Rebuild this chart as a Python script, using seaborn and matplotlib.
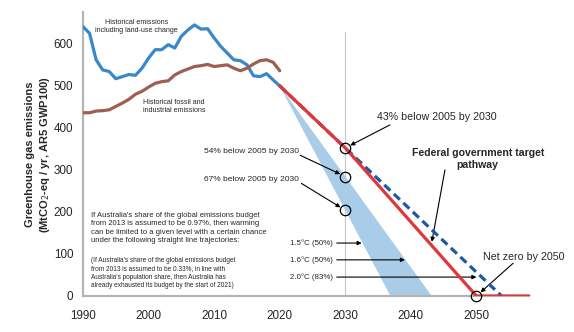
import numpy as np
import pandas as pd
import matplotlib
matplotlib.use("Agg")
import matplotlib.pyplot as plt
import seaborn as sns

# Historical emissions, MtCO2-eq / yr (AR5 GWP100)
years = list(range(1990, 2021))
incl_land_use = [641, 625, 562, 538, 534, 517, 522, 527, 525, 542, 566,
                 586, 586, 598, 590, 618, 633, 645, 635, 636, 614,
                 594, 578, 562, 560, 550, 524, 522, 529, 514, 500]
fossil_industrial = [436, 436, 440, 441, 443, 451, 459, 468, 480, 487, 497,
                     506, 510, 512, 526, 534, 540, 546, 548, 551, 546,
                     548, 550, 542, 536, 542, 552, 560, 562, 556, 536]

# 2030 reduction targets relative to 2005
target_cuts = [0.43, 0.54, 0.67]
target_labels = ["43% below 2005 by 2030", "54% below 2005 by 2030",
                 "67% below 2005 by 2030"]
net_zero_year = 2050
pathway_end_year = 2058
warming_labels = ["1.5°C (50%)", "1.6°C (50%)", "2.0°C (83%)"]

base_2005 = incl_land_use[years.index(2005)]
start_year, start_val = years[-1], incl_land_use[-1]
vals_2030 = [base_2005 * (1 - c) for c in target_cuts]


def zero_year(v2030):
    slope = (start_val - v2030) / (2030 - start_year)
    return start_year + start_val / slope


hist = pd.DataFrame({"year": years, "incl": incl_land_use,
                     "fossil": fossil_industrial})
federal = pd.DataFrame({"year": [start_year, 2030, net_zero_year, pathway_end_year],
                        "val": [start_val, vals_2030[0], 0, 0]})
straight = pd.DataFrame({"year": [start_year, zero_year(vals_2030[0])],
                         "val": [start_val, 0]})

sns.set_style("white")
plt.rcParams["font.family"] = ["Liberation Sans", "DejaVu Sans"]

fig = plt.figure(figsize=(5.74, 3.32), dpi=100)
ax = fig.add_axes([83 / 574, 36 / 332, 459 / 574, 283.7 / 332])
ax.set_xlim(1990, 2060)
ax.set_ylim(0, 675)

# Budget-consistent wedge between the 54% and 67% straight lines
ax.fill([start_year, zero_year(vals_2030[2]), zero_year(vals_2030[1])],
        [start_val, 0, 0], color="#a9cde8", lw=0, zorder=1)

ax.axvline(2030, ymax=628 / 675, color="#c8c8c8", lw=0.8, zorder=0)

sns.lineplot(data=hist, x="year", y="incl", color="#3a88c8", lw=2.3, ax=ax,
             zorder=3)
sns.lineplot(data=hist, x="year", y="fossil", color="#9e5f50", lw=2.3, ax=ax,
             zorder=3)
sns.lineplot(data=straight, x="year", y="val", color="#1e5aa0", lw=2.3,
             ax=ax, dashes=False, linestyle=(0, (2.6, 1.5)), zorder=4)
sns.lineplot(data=federal, x="year", y="val", color="#e0383a", lw=2.3,
             ax=ax, sort=False, zorder=5)

ax.plot([2030] * 3, vals_2030, "o", ms=7.5, mfc="none", mec="black",
        mew=0.9, zorder=6)
ax.plot([net_zero_year], [0], "o", ms=7.5, mfc="none", mec="black",
        mew=0.9, zorder=6, clip_on=False)

# Axes styling
for s in ["top", "right"]:
    ax.spines[s].set_visible(False)
for s in ["left", "bottom"]:
    ax.spines[s].set_color("#b4b4b4")
    ax.spines[s].set_linewidth(1.6)
ax.spines["bottom"].set_bounds(1990, pathway_end_year)
ax.set_xticks(range(1990, 2051, 10))
ax.set_yticks(range(0, 601, 100))
ax.tick_params(axis="both", length=0, labelsize=8.4)
ax.tick_params(axis="x", pad=10)
ax.tick_params(axis="y", pad=7)
ax.set_xlabel("")
ax.set_ylabel("Greenhouse gas emissions\n(MtCO$_2$-eq / yr, AR5 GWP100)",
              fontsize=8, fontweight="bold", linespacing=1.3, labelpad=1)

arrow = dict(arrowstyle="-|>", color="black", lw=0.8, mutation_scale=6,
             shrinkA=0, shrinkB=0)
arrow_c = dict(arrow, shrinkB=4)

ax.text(1998.2, 642, "Historical emissions\nincluding land-use change",
        ha="center", va="center", fontsize=5.1, linespacing=1.2)
ax.text(1999.1, 452, "Historical fossil and\nindustrial emissions",
        ha="left", va="center", fontsize=5.1, linespacing=1.2)

ax.text(2034.8, 426, target_labels[0], ha="left", va="center", fontsize=7.7)
ax.annotate("", xy=(2030, vals_2030[0]), xytext=(2036.8, 407),
            arrowprops=arrow_c)
ax.text(2008.4, 343, target_labels[1], ha="left", va="center", fontsize=6)
ax.annotate("", xy=(2030, vals_2030[1]), xytext=(2023.1, 335),
            arrowprops=arrow_c)
ax.text(2008.4, 277, target_labels[2], ha="left", va="center", fontsize=6)
ax.annotate("", xy=(2030, vals_2030[2]), xytext=(2023.3, 268),
            arrowprops=arrow_c)

ax.text(2050.2, 327, "Federal government target\npathway", ha="center",
        va="center", fontsize=7.6, fontweight="bold", linespacing=1.25)
ax.annotate("", xy=(2043.2, 129), xytext=(2045.2, 300), arrowprops=arrow)

ax.text(2051.0, 93, "Net zero by 2050", ha="left", va="center",
        fontsize=7.7)
ax.annotate("", xy=(net_zero_year, 0), xytext=(2055.6, 78),
            arrowprops=arrow_c)

for lab, yv, tip in zip(warming_labels, [126, 86, 45],
                        [2032.5, 2039.1, 2050.0]):
    ax.text(2028.1, yv, lab, ha="right", va="center", fontsize=5.7)
    ax.annotate("", xy=(tip, yv), xytext=(2028.7, yv), arrowprops=arrow)

ax.text(1991.2, 162,
        "If Australia's share of the global emissions budget\n"
        "from 2013 is assumed to be 0.97%, then warming\n"
        "can be limited to a given level with a certain chance\n"
        "under the following straight line trajectories:",
        ha="left", va="center", fontsize=5.5, linespacing=1.3)
ax.text(1991.2, 55,
        "(If Australia's share of the global emissions budget\n"
        "from 2013 is assumed to be 0.33%, in line with\n"
        "Australia's population share, then Australia has\n"
        "already exhausted its budget by the start of 2021)",
        ha="left", va="center", fontsize=4.7, linespacing=1.25)

fig.savefig("out.png", dpi=100)
